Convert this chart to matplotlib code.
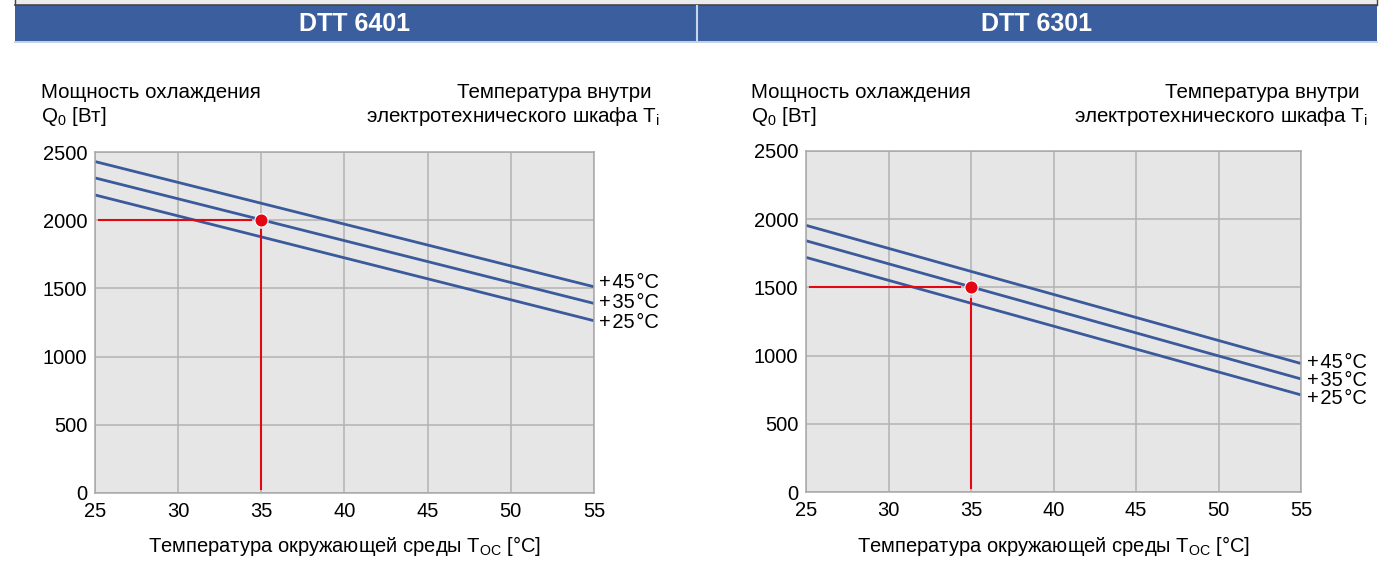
import matplotlib
matplotlib.use("Agg")
import matplotlib.pyplot as plt
from matplotlib.patches import Rectangle
from matplotlib.lines import Line2D

plt.rcParams['font.family'] = ['Liberation Sans', 'DejaVu Sans']
plt.rcParams['mathtext.fontset'] = 'custom'
plt.rcParams['mathtext.rm'] = 'Liberation Sans'
plt.rcParams['mathtext.it'] = 'Liberation Sans:italic'

# ---- data ----
t_amb = [25, 55]
x_ticks = [25, 30, 35, 40, 45, 50, 55]
y_ticks = [0, 500, 1000, 1500, 2000, 2500]
series_labels = ['+\u200a45\u200a°C', '+\u200a35\u200a°C', '+\u200a25\u200a°C']

left_title = 'DTT 6401'
left_45 = [2430, 1512]
left_35 = [2310, 1390]
left_25 = [2185, 1263]
left_point = (35, 2000)

right_title = 'DTT 6301'
right_45 = [1955, 942]
right_35 = [1842, 829]
right_25 = [1720, 712]
right_point = (35, 1500)

W, H = 1382, 562
fig = plt.figure(figsize=(W / 100, H / 100), dpi=100)

# background decoration in pixel coordinates
bg = fig.add_axes([0, 0, 1, 1])
bg.set_xlim(0, W)
bg.set_ylim(H, 0)
bg.axis('off')
bg.add_patch(Rectangle((15, 0), 1362, 4, facecolor='#ebebeb', edgecolor='none'))
bg.add_line(Line2D([15, 1377], [4.5, 4.5], color='#444444', lw=1.2))
bg.add_line(Line2D([15, 15], [0, 4.5], color='#444444', lw=1.0))
bg.add_line(Line2D([1377, 1377], [0, 4.5], color='#444444', lw=1.0))
bg.add_patch(Rectangle((15, 5), 1362, 36, facecolor='#3b5e9e', edgecolor='none'))
bg.add_line(Line2D([15, 1377], [41.5, 41.5], color='#b8c8e4', lw=1.2))
bg.add_line(Line2D([697, 697], [6, 41], color='#c8d4ea', lw=1.5))

BLUE = '#3b5a9c'
RED = '#e30613'
FS = 14.5


def make_panel(px_left, px_right, px_top, px_bot, s45, s35, s25, pt, vline_top):
    ax = fig.add_axes([px_left / W, (H - px_bot) / H, (px_right - px_left) / W,
                       (px_bot - px_top) / H])
    ax.set_facecolor('#e6e6e6')
    ax.set_xlim(25, 55)
    ax.set_ylim(0, 2500)
    ax.set_xticks(x_ticks)
    ax.set_yticks(y_ticks)
    ax.grid(True, color='#b3b3b3', lw=1.1)
    ax.set_axisbelow(True)
    for s in ax.spines.values():
        s.set_color('#a8a8a8')
        s.set_linewidth(1.1)
    ax.tick_params(length=0, labelsize=FS)
    ax.tick_params(axis='y', pad=5.5)
    ax.tick_params(axis='x', pad=6.5)
    for ys in [s45, s35, s25]:
        ax.plot(t_amb, ys, color=BLUE, lw=2.0, solid_capstyle='butt', clip_on=False)
    # red reading guides
    ax.plot([25.25, pt[0] - 0.65], [pt[1], pt[1]], color=RED, lw=1.5)
    ax.plot([pt[0], pt[0]], [30, vline_top], color=RED, lw=1.5)
    ax.plot([pt[0]], [pt[1]], 'o', color=RED, ms=9.5, mec='white', mew=0.8, zorder=5)
    return ax


axL = make_panel(95, 594, 152, 493, left_45, left_35, left_25, left_point, 1930)
axR = make_panel(806, 1301, 151, 492, right_45, right_35, right_25, right_point, 1415)

# x-axis captions
for cx in [345, 1054]:
    bg.text(cx, 546, 'Температура окружающей среды T$_\\mathrm{OC}$ [°C]', fontsize=FS,
            ha='center', va='center')

# series labels (pixel positions)
for x0, ys in [(599, [282, 302, 322]), (1307, [362, 380, 398])]:
    for y, lab in zip(ys, series_labels):
        bg.text(x0, y, lab, fontsize=FS, ha='left', va='center', color='black')

# header titles
bg.text(355, 24, left_title, fontsize=18, fontweight='bold', color='white', ha='center', va='center')
bg.text(1037, 24, right_title, fontsize=18, fontweight='bold', color='white', ha='center', va='center')

# axis captions
for xl, xr in [(41, 660), (751, 1368)]:
    bg.text(xl, 92, 'Мощность охлаждения', fontsize=FS + 0.3, ha='left', va='center')
    bg.text(xl, 116, 'Q$_\\mathrm{0}$ [Вт]', fontsize=FS + 0.3, ha='left', va='center')
    bg.text(xr - 8, 92, 'Температура внутри', fontsize=FS + 0.3, ha='right', va='center')
    bg.text(xr, 116, 'электротехнического шкафа T$_\\mathrm{i}$', fontsize=FS + 0.3,
            ha='right', va='center')

fig.savefig('out.png', dpi=100)
